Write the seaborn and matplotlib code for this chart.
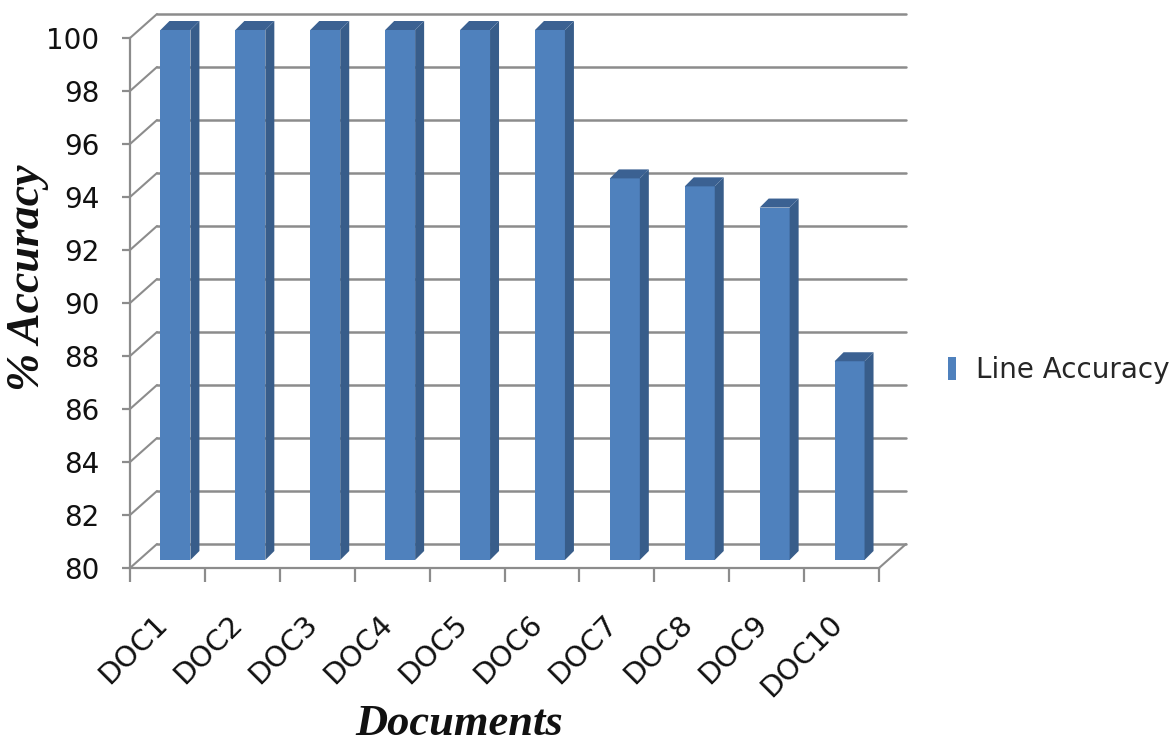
import matplotlib
matplotlib.use("Agg")
import matplotlib.pyplot as plt
from matplotlib.transforms import ScaledTranslation
from matplotlib.patches import Polygon, Patch
import seaborn as sns
import pandas as pd

documents = ["DOC1", "DOC2", "DOC3", "DOC4", "DOC5", "DOC6", "DOC7", "DOC8", "DOC9", "DOC10"]
line_accuracy = [100, 100, 100, 100, 100, 100, 94.4, 94.1, 93.3, 87.5]
y_ticks = [80, 82, 84, 86, 88, 90, 92, 94, 96, 98, 100]
series_name = "Line Accuracy"

sns.set_style("white")
plt.rcParams["font.family"] = ["DejaVu Sans"]

W, H, DPI = 1173, 749, 100
fig = plt.figure(figsize=(W / DPI, H / DPI), dpi=DPI)

FRONT = "#4F81BD"
SIDE = "#385D8A"
TOP = "#3B6192"
GRID = "#8C8C8C"

def px_axes(left, top, right, bottom):
    return fig.add_axes([left / W, 1 - bottom / H, (right - left) / W, (bottom - top) / H])

# frame plane: front axis lines, ticks and the back wall
ax = px_axes(130, 38, 879, 568)
ax.set_xlim(-0.5, len(documents) - 0.5)
ax.set_ylim(y_ticks[0], y_ticks[-1])
ax.patch.set_alpha(0)
for s in ["top", "right"]:
    ax.spines[s].set_visible(False)
for s in ["left", "bottom"]:
    ax.spines[s].set_color(GRID)
    ax.spines[s].set_linewidth(1.6)

ax.set_yticks(y_ticks)
ax.set_yticklabels([str(t) for t in y_ticks], fontsize=20, color="#111111")
ax.tick_params(axis="y", length=6, width=1.6, color=GRID, pad=16, left=True)

ax.set_xticks([i - 0.5 for i in range(len(documents) + 1)])
ax.set_xticklabels([])
ax.tick_params(axis="x", which="major", length=10, width=1.6, color=GRID, bottom=True)

# category labels, rotated, hanging below the floor
label_pos = ax.transData + ScaledTranslation(6 / DPI, -42 / DPI, fig.dpi_scale_trans)
for i, name in enumerate(documents):
    ax.text(i, y_ticks[0], name, transform=label_pos, rotation=45, ha="right", va="top",
            fontsize=21, color="#111111", clip_on=False)

# back wall, 27 px right and 24 px up from the front plane
back = ax.transData + ScaledTranslation(27 / DPI, 24 / DPI, fig.dpi_scale_trans)
x0, x1 = -0.5, len(documents) - 0.5
for t in y_ticks:
    ax.plot([x0, x1], [t, t], color=GRID, lw=1.8, transform=back, clip_on=False, zorder=1)
    # left wall diagonals from the front axis to the back wall
    ax.annotate("", xy=(x0, t), xycoords=back, xytext=(x0, t), textcoords="data",
                arrowprops=dict(arrowstyle="-", color=GRID, lw=1.5, shrinkA=0, shrinkB=0),
                annotation_clip=False)
# right floor edge
ax.annotate("", xy=(x1, y_ticks[0]), xycoords=back, xytext=(x1, y_ticks[0]), textcoords="data",
            arrowprops=dict(arrowstyle="-", color=GRID, lw=1.5, shrinkA=0, shrinkB=0),
            annotation_clip=False)

# bar plane, set slightly behind the front axis
bx = px_axes(138, 30, 887, 560)
df = pd.DataFrame({"Document": documents, "Accuracy": line_accuracy})
sns.barplot(data=df, x="Document", y="Accuracy", ax=bx, color=FRONT, saturation=1,
            width=0.4, linewidth=0)
bx.set_xlim(-0.5, len(documents) - 0.5)
bx.set_ylim(y_ticks[0], y_ticks[-1])
bx.axis("off")
bx.patch.set_alpha(0)

# bar depth: 9 px right and 9 px up
bw_px = 887 - 138
bh_px = 560 - 30
ddx = 9 * (len(documents)) / bw_px
ddy = 9 * (y_ticks[-1] - y_ticks[0]) / bh_px
base = y_ticks[0]
for p in list(bx.patches):
    xl = p.get_x()
    xr = xl + p.get_width()
    v = p.get_height()
    side = Polygon([(xr, base), (xr, v), (xr + ddx, v + ddy), (xr + ddx, base + ddy)],
                   closed=True, facecolor=SIDE, edgecolor="none", clip_on=False)
    top = Polygon([(xl, v), (xr, v), (xr + ddx, v + ddy), (xl + ddx, v + ddy)],
                  closed=True, facecolor=TOP, edgecolor="none", clip_on=False)
    bx.add_patch(side)
    bx.add_patch(top)

# axis titles
title_font = dict(family="Liberation Serif", weight="bold", style="italic", color="#111111")
fig.text(28 / W, 1 - 278 / H, "% Accuracy", rotation=90, ha="center", va="center",
         fontsize=33, **title_font)
fig.text(459 / W, 1 - 724 / H, "Documents", ha="center", va="center", fontsize=32, **title_font)

# legend
fig.legend(handles=[Patch(facecolor=FRONT, edgecolor="none")], labels=[series_name],
           loc="center left", bbox_to_anchor=(948 / W, 1 - 370 / H), frameon=False,
           fontsize=20, handlelength=0.3, handleheight=0.9, handletextpad=0.7,
           borderaxespad=0, borderpad=0)

fig.savefig("out.png", dpi=DPI)
